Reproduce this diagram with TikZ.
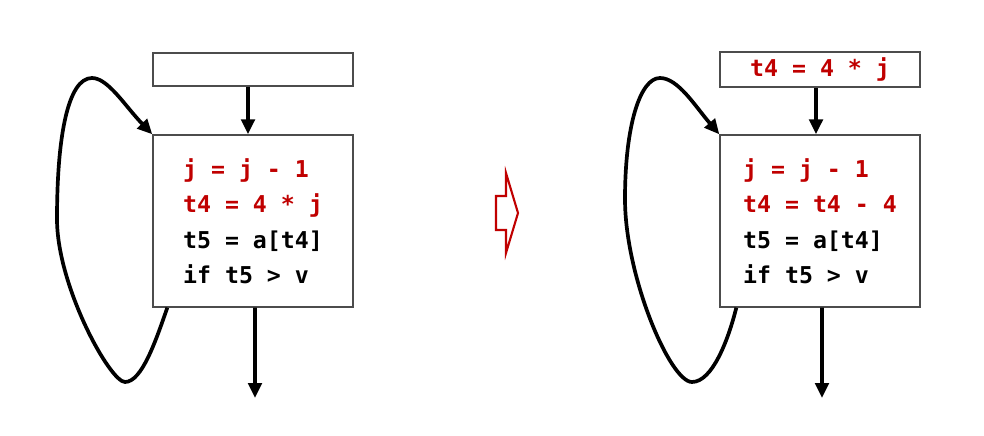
\documentclass[tikz,border=0pt]{standalone}
\usepackage{fontspec}
\setmonofont{DejaVu Sans Mono}
\usetikzlibrary{arrows.meta}
\definecolor{codered}{RGB}{192,0,0}
\newcommand{\codefont}{\ttfamily\bfseries\fontsize{13.2}{20.2}\selectfont}
\tikzset{
    block/.style={draw=black!70,line width=0.8pt,fill=white,minimum width=4cm,align=left,font=\codefont},
    flow/.style={line width=2.1pt,-{Triangle[length=0.3cm,width=0.27cm]}}
}
\begin{document}
\begin{tikzpicture}[x=0.02cm,y=0.02cm]
        \useasboundingbox (0,0) rectangle (984,436);
        % Draw left blocks
        \node[block,minimum height=0.66cm] (topL) at (253,366.5) {};
        \node[block,minimum height=3.44cm] (bodyL) at (253,215) {
            \textcolor{codered}{j = j - 1}\\
            \textcolor{codered}{t4 = 4 * j}\\
            t5 = a[t4]\\
            if t5 > v
        };
        % Draw left edges
        \coordinate (exitL) at (255,38);
        \coordinate (loopLbot) at (125,54);
        \coordinate (loopLside) at (57,217);
        \coordinate (loopLtop) at (92,358);
        \draw[flow] ([xshift=-0.1cm]topL.south) -- ([xshift=-0.1cm]bodyL.north);
        \draw[flow] ([xshift=0.04cm]bodyL.south) -- (exitL);
        \draw[flow] ([xshift=0.3cm]bodyL.south west) .. controls (156,96) and (142,54) .. (loopLbot)
            .. controls (110,54) and (57,150) .. (loopLside)
            .. controls (57,300) and (68,358) .. (loopLtop)
            .. controls (108,358) and (125,330) .. (bodyL.north west);
        % Draw hollow arrow
        \draw[codered,line width=1.2pt,fill=white] (496,206) -- (506,206) -- (506,183) -- (518,223)
            -- (506,263) -- (506,240) -- (496,240) -- cycle;
        % Draw right blocks
        \node[block,minimum height=0.66cm] (topR) at (820,366.5) {\textcolor{codered}{t4 = 4 * j}};
        \node[block,minimum height=3.44cm] (bodyR) at (820,215) {
            \textcolor{codered}{j = j - 1}\\
            \textcolor{codered}{t4 = t4 - 4}\\
            t5 = a[t4]\\
            if t5 > v
        };
        % Draw right edges
        \coordinate (exitR) at (822,38);
        \coordinate (loopRbot) at (692,54);
        \coordinate (loopRside) at (625,237);
        \coordinate (loopRtop) at (660,358);
        \draw[flow] ([xshift=-0.08cm]topR.south) -- ([xshift=-0.08cm]bodyR.north);
        \draw[flow] ([xshift=0.04cm]bodyR.south) -- (exitR);
        \draw[flow] ([xshift=0.34cm]bodyR.south west) .. controls (728,95) and (712,54) .. (loopRbot)
            .. controls (670,54) and (625,160) .. (loopRside)
            .. controls (625,310) and (640,358) .. (loopRtop)
            .. controls (678,358) and (695,330) .. (bodyR.north west);
    \end{tikzpicture}
\end{document}
